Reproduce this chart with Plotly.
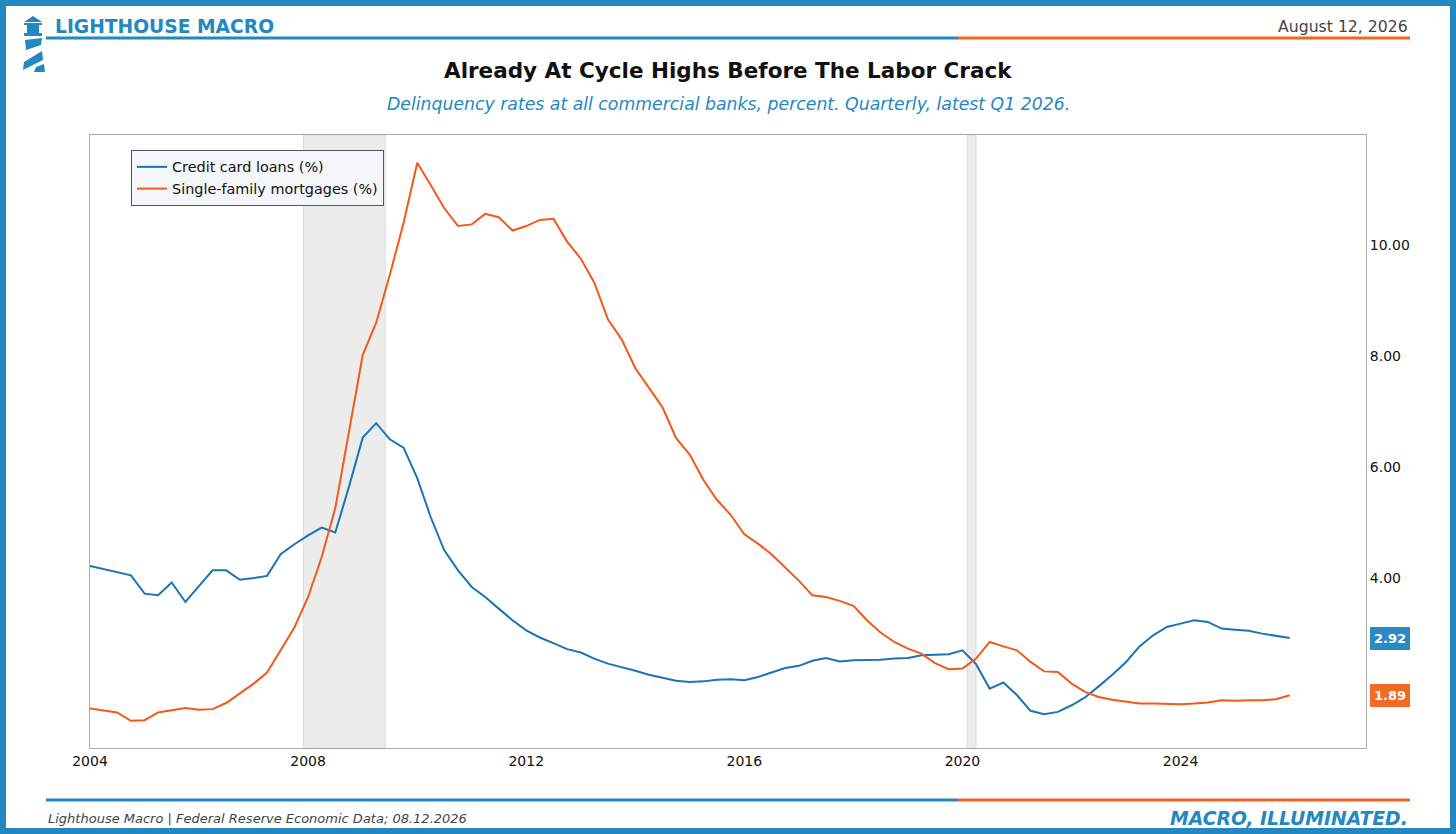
import plotly.graph_objects as go
import pandas as pd

# quarterly, Q1 2004 .. Q1 2026
quarters = pd.date_range("2004-01-01", "2026-01-01", freq="QS")

credit_card = [
    4.22, 4.16, 4.10, 4.05,
    3.72, 3.69, 3.92, 3.57,
    3.86, 4.14, 4.14, 3.97,
    4.00, 4.04, 4.43, 4.61,
    4.77, 4.91, 4.82, 5.65,
    6.53, 6.79, 6.50, 6.35,
    5.80, 5.10, 4.50, 4.14,
    3.84, 3.66, 3.45, 3.24,
    3.06, 2.93, 2.83, 2.72,
    2.66, 2.55, 2.46, 2.40,
    2.33, 2.26, 2.20, 2.15,
    2.13, 2.14, 2.17, 2.18,
    2.16, 2.22, 2.30, 2.38,
    2.42, 2.51, 2.56, 2.50,
    2.52, 2.52, 2.53, 2.55,
    2.56, 2.61, 2.62, 2.63,
    2.70, 2.45, 2.01, 2.12,
    1.89, 1.61, 1.55, 1.59,
    1.71, 1.85, 2.05, 2.26,
    2.49, 2.77, 2.97, 3.12,
    3.18, 3.24, 3.21, 3.09,
    3.07, 3.05, 3.00, 2.96,
    2.92,
]

mortgages = [
    1.65, 1.62, 1.58, 1.43,
    1.44, 1.58, 1.62, 1.66,
    1.63, 1.64, 1.75, 1.92,
    2.10, 2.30, 2.70, 3.11,
    3.66, 4.38, 5.26, 6.64,
    8.02, 8.60, 9.46, 10.39,
    11.48, 11.08, 10.66, 10.34,
    10.37, 10.56, 10.50, 10.26,
    10.34, 10.45, 10.47, 10.06,
    9.75, 9.32, 8.66, 8.30,
    7.78, 7.43, 7.08, 6.52,
    6.22, 5.77, 5.41, 5.14,
    4.79, 4.62, 4.43, 4.19,
    3.95, 3.69, 3.66, 3.59,
    3.50, 3.24, 3.02, 2.85,
    2.73, 2.64, 2.47, 2.36,
    2.37, 2.55, 2.85, 2.77,
    2.70, 2.49, 2.32, 2.31,
    2.10, 1.95, 1.86, 1.81,
    1.77, 1.74, 1.74, 1.73,
    1.73, 1.74, 1.76, 1.80,
    1.79, 1.80, 1.80, 1.82,
    1.89,
]

recessions = [("2007-12-01", "2009-06-01"), ("2020-02-01", "2020-04-01")]
year_ticks = ["2004", "2008", "2012", "2016", "2020", "2024"]
y_ticks = [2, 4, 6, 8, 10]

BLUE = "#1a75b4"
ORANGE = "#f4581a"
BRAND = "#2388c2"
FONT = "DejaVu Sans"

W, H = 1456, 834
L, R, T, B = 90, 1366, 135, 748


def px(x):
    return (x - L) / (R - L)


def py(y):
    return (B - y) / (B - T)


fig = go.Figure()

fig.add_trace(go.Scatter(
    x=quarters, y=credit_card, mode="lines", name="Credit card loans (%)",
    line=dict(color=BLUE, width=2),
))
fig.add_trace(go.Scatter(
    x=quarters, y=mortgages, mode="lines", name="Single-family mortgages (%)",
    line=dict(color=ORANGE, width=2),
))

shapes = []
for a, b in recessions:
    shapes.append(dict(type="rect", xref="x", yref="paper", x0=a, x1=b, y0=0, y1=1,
                       fillcolor="#ececec", line=dict(color="#dcdcdc", width=1),
                       layer="below"))
# outer frame
shapes.append(dict(type="rect", xref="paper", yref="paper",
                   x0=px(3), x1=px(W - 3), y0=py(3), y1=py(H - 3),
                   line=dict(color=BRAND, width=6)))
# header / footer rules
for yy in (38, 800):
    shapes.append(dict(type="line", xref="paper", yref="paper",
                       x0=px(46), x1=px(958), y0=py(yy), y1=py(yy),
                       line=dict(color=BRAND, width=3)))
    shapes.append(dict(type="line", xref="paper", yref="paper",
                       x0=px(958), x1=px(1410), y0=py(yy), y1=py(yy),
                       line=dict(color="#f26522", width=3)))


def poly(points):
    d = "M " + " L ".join(f"{px(a)},{py(b)}" for a, b in points) + " Z"
    return dict(type="path", xref="paper", yref="paper", path=d,
                fillcolor=BRAND, line=dict(width=0))


# little lighthouse mark
shapes.append(poly([(24, 22), (33, 16), (42, 22)]))
shapes.append(poly([(24, 23), (42, 23), (42, 25), (24, 25)]))
shapes.append(poly([(27, 25), (39, 25), (39, 33), (27, 33)]))
shapes.append(poly([(24, 33), (42, 33), (42, 36), (24, 36)]))
shapes.append(poly([(25, 40), (42, 38), (41, 45), (26, 50)]))
shapes.append(poly([(24, 62), (42, 51), (43, 60), (23, 70)]))
shapes.append(poly([(36, 67), (44, 64), (45, 72), (34, 72)]))

annotations = [
    dict(text="<b>LIGHTHOUSE MACRO</b>", x=px(53), y=py(27), xanchor="left",
         font=dict(size=18.7, color=BRAND)),
    dict(text="August 12, 2026", x=px(1410), y=py(26), xanchor="right",
         font=dict(size=15.7, color="#444444")),
    dict(text="<b>Already At Cycle Highs Before The Labor Crack</b>", x=px(728), y=py(70),
         font=dict(size=21.5, color="#111111")),
    dict(text="<i>Delinquency rates at all commercial banks, percent. Quarterly, latest Q1 2026.</i>",
         x=px(728), y=py(104), font=dict(size=17.3, color=BRAND)),
    dict(text="<i>Lighthouse Macro | Federal Reserve Economic Data; 08.12.2026</i>",
         x=px(46), y=py(818), xanchor="left", font=dict(size=13, color="#444444")),
    dict(text="<b><i>MACRO, ILLUMINATED.</i></b>", x=px(1410), y=py(818), xanchor="right",
         font=dict(size=18.8, color=BRAND)),
]
for ann in annotations:
    ann.update(xref="paper", yref="paper", showarrow=False, yanchor="middle")
    ann["font"]["family"] = FONT

# latest-value tags on the right axis (they sit over the 2.00 tick, as in the original)
for series, col in ((credit_card, "#2a8ac4"), (mortgages, "#f46a25")):
    annotations.append(dict(
        text=f"<b>{series[-1]:.2f}</b>", xref="paper", yref="y", x=1, y=series[-1],
        xanchor="left", xshift=4, showarrow=False, bgcolor=col, bordercolor=col,
        borderpad=3, font=dict(family=FONT, size=13, color="white"),
    ))

fig.update_layout(
    width=W, height=H,
    margin=dict(l=L, r=W - R, t=T, b=H - B),
    paper_bgcolor="white", plot_bgcolor="white",
    font=dict(family=FONT, size=14, color="#111111"),
    showlegend=True,
    legend=dict(x=px(131), y=py(150), xanchor="left", yanchor="top",
                bgcolor="#f4f6f9", bordercolor="#555555", borderwidth=1,
                font=dict(size=14.4), tracegroupgap=0),
    xaxis=dict(type="date", range=["2004-01-01", "2027-05-27"],
               tickvals=[f"{y}-01-01" for y in year_ticks], ticktext=year_ticks,
               showgrid=False, zeroline=False, showline=True, mirror=True,
               linecolor="#aaaaaa", linewidth=1, ticks="", tickfont=dict(size=14)),
    yaxis=dict(side="right", range=[0.94, 11.98], tickvals=y_ticks, tickformat=".2f",
               showgrid=False, zeroline=False, showline=True, mirror=True,
               linecolor="#aaaaaa", linewidth=1, ticks="", tickfont=dict(size=14)),
    shapes=shapes,
    annotations=annotations,
)

# drop the default page margin so the figure sits at the window's corner
fig.write_html("out.html", config={"displayModeBar": False},
               post_script="document.body.style.margin='0';")
